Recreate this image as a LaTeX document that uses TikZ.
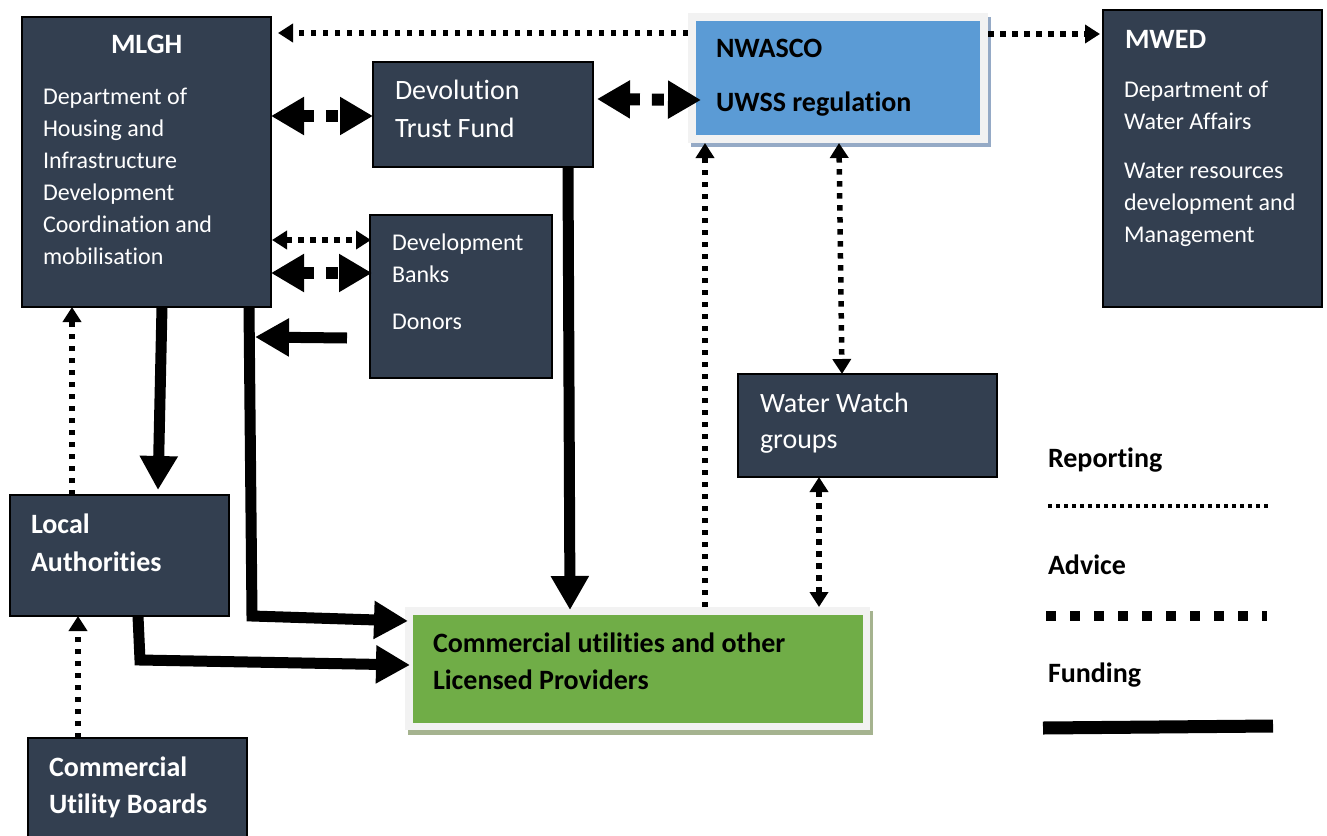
\documentclass[tikz,border=0pt]{standalone}
\usepackage{fontspec}
\setmainfont{Carlito}[Ligatures=NoCommon]
\usetikzlibrary{arrows.meta,calc}
\definecolor{darkfill}{HTML}{333F50}
\definecolor{nwblue}{HTML}{5B9BD5}
\definecolor{cugreen}{HTML}{70AD47}
\definecolor{framegray}{HTML}{F2F2F2}
\definecolor{blueshadow}{HTML}{95AAC6}
\definecolor{greenshadow}{HTML}{A5B38F}
\newcommand\txtsmall{\fontsize{24pt}{32pt}\selectfont}
\newcommand\txtbig{\fontsize{28pt}{38pt}\selectfont}
\newcommand\txtbold{\fontsize{28pt}{37pt}\selectfont\bfseries}
\begin{document}
\begin{tikzpicture}[x=1pt,y=-1pt,
  darkrect/.style={draw=black, line width=1.5pt, fill=darkfill, anchor=north west, inner sep=0pt, outer sep=0pt},
  plainrect/.style={anchor=north west, inner sep=0pt, outer sep=0pt},
  txt/.style={anchor=base west, inner sep=0pt, outer sep=0pt, text=white},
  btxt/.style={anchor=base west, inner sep=0pt, outer sep=0pt, text=black},
  rep/.style={line width=5.5pt, dash pattern=on 5.5pt off 6.5pt, -{Triangle[length=15pt,width=18pt]}},
  repboth/.style={line width=5.5pt, dash pattern=on 5.5pt off 6.5pt, {Triangle[length=15pt,width=18pt]}-{Triangle[length=15pt,width=18pt]}},
  adv/.style={line width=12pt, dash pattern=on 12pt off 12pt, {Triangle[length=33pt,width=36pt]}-{Triangle[length=33pt,width=36pt]}},
  fund/.style={line width=11pt, line join=miter, -{Triangle[length=34pt,width=36pt]}}
]
\useasboundingbox[fill=white] (0,0) rectangle (1327,835);

% boxes
\node[darkrect, minimum width=249pt, minimum height=290pt] (mlgh) at (22,17) {};
\node[darkrect, minimum width=220pt, minimum height=105pt] (dtf) at (373,62) {};
\node[plainrect, fill=blueshadow, minimum width=300pt, minimum height=130pt] (nwshadow) at (691,17) {};
\node[plainrect, fill=framegray, minimum width=300pt, minimum height=130pt] (nwf) at (688,13) {};
\node[plainrect, fill=nwblue, minimum width=284pt, minimum height=114pt] (nw) at (696,21) {};
\node[darkrect, minimum width=219pt, minimum height=297pt] (mwed) at (1103,10) {};
\node[darkrect, minimum width=182pt, minimum height=163pt] (dbd) at (370,215) {};
\node[darkrect, minimum width=259pt, minimum height=103pt] (ww) at (738,374) {};
\node[darkrect, minimum width=219pt, minimum height=121pt] (la) at (10,495) {};
\node[plainrect, fill=greenshadow, minimum width=465pt, minimum height=124pt] (cushadow) at (408,611) {};
\node[plainrect, fill=framegray, minimum width=465pt, minimum height=123pt] (cuf) at (405,607) {};
\node[plainrect, fill=cugreen, minimum width=450pt, minimum height=108pt] (cu) at (413,615) {};
\node[darkrect, minimum width=219pt, minimum height=110pt] (cub) at (28,738) {};

% texts
\node[txt] (mlgh-title) at (111,53) {\txtbold MLGH};
\node[txt] (mlgh-body) at (43,104) {\parbox[t]{240pt}{\raggedright\txtsmall Department of\\Housing and\\Infrastructure\\Development\\Coordination and\\mobilisation}};
\node[txt] (dtf-text) at (395,99) {\parbox[t]{200pt}{\raggedright\txtbig Devolution\\Trust Fund}};
\node[btxt] (nw-text) at (716,57) {\parbox[t]{260pt}{\raggedright\fontsize{28pt}{54pt}\selectfont\bfseries NWASCO\\UWSS regulation}};
\node[txt] (mwed-title) at (1125,48) {\txtbold MWED};
\node[txt] (mwed-body) at (1124,97) {\parbox[t]{200pt}{\raggedright\txtsmall Department of\\Water Affairs\\[17pt]Water resources\\development and\\Management}};
\node[txt] (dbd-text) at (392,250) {\parbox[t]{170pt}{\raggedright\txtsmall Development\\Banks\\[15pt]Donors}};
\node[txt] (ww-text) at (760,412) {\parbox[t]{230pt}{\raggedright\fontsize{28pt}{36pt}\selectfont Water Watch\\groups}};
\node[txt] (la-text) at (31,533) {\parbox[t]{190pt}{\raggedright\fontsize{28pt}{38pt}\selectfont\bfseries Local\\Authorities}};
\node[btxt] (cu-text) at (433,652) {\parbox[t]{420pt}{\raggedright\txtbold Commercial utilities and other\\Licensed Providers}};
\node[txt] (cub-text) at (49,776) {\parbox[t]{190pt}{\raggedright\txtbold Commercial\\Utility Boards}};

% legend
\node[btxt] (leg-rep) at (1048,467) {\txtbold Reporting};
\node[btxt] (leg-adv) at (1048,574) {\txtbold Advice};
\node[btxt] (leg-fund) at (1048,682) {\txtbold Funding};
\draw[line width=4pt, dash pattern=on 4pt off 4pt] (1048,506) -- (1268,506);
\draw[line width=10pt, dash pattern=on 10pt off 14pt] (1046,616) -- (1267,616);
\draw[line width=13pt] (1043,728) -- (1273,726);

% reporting connectors
\draw[rep] ($(nwf.north west)+(0,20)$) -- ($(mlgh.north east)+(7,16)$);
\draw[rep] ($(nwf.north east)+(0,21)$) -- ($(mwed.north west)+(-3,24)$);
\draw[repboth] ($(mlgh.north east)+(1,223)$) -- ($(dbd.north west)+(1,25)$);
\draw[rep] ($(cuf.north west)+(300,0)$) -- ($(nwf.south west)+(17,0)$);
\draw[repboth] ($(nwf.south west)+(151,0)$) -- ($(ww.north west)+(104,0)$);
\draw[repboth] ($(ww.south west)+(81,0)$) -- ($(cuf.north west)+(414,0)$);
\draw[rep] ($(la.north west)+(62,0)$) -- ($(mlgh.south west)+(50,0)$);
\draw[rep] ($(cub.north west)+(50,0)$) -- ($(la.south west)+(68,0)$);

% advice connectors
\draw[adv] ($(mlgh.north east)+(0,99)$) -- ($(dtf.north west)+(0,54)$);
\draw[adv] ($(dtf.north east)+(4,37)$) -- ($(nw.north west)+(5,79)$);
\draw[adv] ($(mlgh.north east)+(0,256)$) -- ($(dbd.north west)+(2,58)$);

% funding connectors
\draw[fund] ($(dbd.south west)+(-23,-40)$) -- ($(mlgh.south west)+(233,30)$);
\draw[fund] ($(mlgh.south west)+(227,0)$) -- ($(cuf.north west)+(-153,9)$) -- ($(cuf.north west)+(3,14)$);
\draw[fund] ($(mlgh.south west)+(140,0)$) -- ($(la.north west)+(148,-5)$);
\draw[fund] ($(la.south west)+(128,0)$) -- ($(la.south west)+(130,44)$) -- ($(cuf.north west)+(5,58)$);
\draw[fund] ($(dtf.south west)+(195,0)$) -- ($(cuf.north west)+(165,3)$);
\end{tikzpicture}
\end{document}
